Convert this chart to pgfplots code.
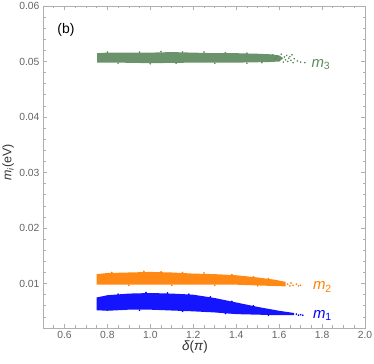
\documentclass[border=0pt]{standalone}
\usepackage{fontspec}
\setmainfont{Liberation Sans}
\usepackage{pgfplots}
\pgfplotsset{compat=1.18}

\definecolor{mgreen}{RGB}{94,138,94}
\definecolor{morange}{RGB}{255,127,0}
\definecolor{mblue}{RGB}{0,0,255}
\definecolor{framegray}{RGB}{175,175,175}
\definecolor{labgray}{RGB}{100,100,100}

\begin{document}
\begin{tikzpicture}
\begin{axis}[
scale only axis,
width=322bp, height=322bp,
xmin=0.5, xmax=2.0,
ymin=0.002, ymax=0.06,
xtick={0.6,0.8,1.0,1.2,1.4,1.6,1.8,2.0},
xticklabels={0.6,0.8,1.0,1.2,1.4,1.6,1.8,2.0},
ytick={0.01,0.02,0.03,0.04,0.05,0.06},
yticklabels={0.01,0.02,0.03,0.04,0.05,0.06},
minor xtick={0.5,0.55,0.65,0.7,0.75,0.85,0.9,0.95,1.05,1.1,1.15,1.25,1.3,1.35,1.45,1.5,1.55,1.65,1.7,1.75,1.85,1.9,1.95},
minor ytick={0.004,0.006,0.008,0.012,0.014,0.016,0.018,0.022,0.024,0.026,0.028,0.032,0.034,0.036,0.038,0.042,0.044,0.046,0.048,0.052,0.054,0.056,0.058},
axis line style={draw=framegray, line width=0.9bp},
tick style={draw=framegray, line width=0.7bp},
major tick length=4bp,
minor tick length=2.5bp,
tick align=inside,
ticklabel style={font=\fontsize{10.4}{12}\selectfont, text=labgray},
scaled y ticks=false,
xlabel={\textit{δ}(\textit{π})},
ylabel={\textit{m}\textsubscript{\textit{i}}(eV)},
label style={text=black!80},
xlabel style={font=\fontsize{13.5}{15}\selectfont, inner sep=0pt, at={(axis description cs:0.472,0)}, anchor=center, yshift=-19.5bp},
ylabel style={font=\fontsize{12.5}{14}\selectfont, at={(axis description cs:-0.108,0.515)}, anchor=center},
]

% m3 band
\addplot[draw=none, fill=mgreen!92!white] coordinates {
(0.752,0.0498) (0.752,0.0515) (0.8,0.0516) (0.9,0.0516) (1.0,0.0516) (1.1,0.0517)
(1.2,0.0516) (1.3,0.0515) (1.4,0.0515) (1.5,0.0514) (1.56,0.0513) (1.6,0.0511) (1.62,0.0506)
(1.6,0.0500) (1.55,0.0499) (1.4,0.0498) (1.2,0.0498) (1.0,0.0497) (0.85,0.0498)};
\addplot[only marks, mark=*, mark size=0.6bp, color=mgreen] coordinates {
(1.57,0.0512) (1.58,0.0505) (1.59,0.0509) (1.60,0.0502) (1.61,0.0513) (1.62,0.0499)
(1.625,0.0508) (1.63,0.0503) (1.635,0.0511) (1.64,0.0500) (1.645,0.0506) (1.65,0.0509)
(1.655,0.0502) (1.66,0.0512) (1.665,0.0498) (1.67,0.0505) (1.685,0.0501) (1.70,0.0499) (1.72,0.0498)
(0.8,0.0517) (0.95,0.0517) (1.05,0.0518) (1.15,0.0517) (1.25,0.0517) (1.35,0.0516) (1.45,0.0515)
(0.85,0.0497) (1.0,0.0496) (1.12,0.0497) (1.3,0.0497) (1.45,0.0497) (1.52,0.0498)};

% m2 band
\addplot[draw=none, fill=morange!92!white] coordinates {
(0.75,0.0098) (0.75,0.0117) (0.8,0.0119) (0.9,0.0120) (1.0,0.0121) (1.1,0.0120) (1.2,0.0118)
(1.3,0.0117) (1.4,0.0115) (1.5,0.0111) (1.58,0.0107) (1.63,0.0103)
(1.63,0.0095) (1.55,0.0096) (1.4,0.0098) (1.2,0.0098) (1.0,0.0098) (0.85,0.0098)};
\addplot[only marks, mark=*, mark size=0.6bp, color=morange] coordinates {
(1.64,0.0099) (1.65,0.0096) (1.655,0.0101) (1.665,0.0097) (1.68,0.0099) (1.69,0.0096) (1.70,0.0097)
(0.82,0.0120) (0.97,0.0122) (1.05,0.0121) (1.15,0.0120) (1.25,0.0119) (1.38,0.0116) (1.48,0.0112)
(1.55,0.0109) (0.9,0.0097) (1.1,0.0097) (1.3,0.0097) (1.5,0.0096)};

% m1 band
\addplot[draw=none, fill=mblue!92!white] coordinates {
(0.75,0.0052) (0.75,0.0075) (0.8,0.0079) (0.9,0.0082) (1.0,0.0083) (1.1,0.0082) (1.2,0.0080)
(1.3,0.0074) (1.4,0.0066) (1.5,0.0058) (1.6,0.0051) (1.67,0.0047)
(1.67,0.0043) (1.6,0.0043) (1.5,0.0044) (1.4,0.0045) (1.3,0.0048) (1.2,0.0050) (1.0,0.0053)
(0.9,0.0053) (0.8,0.0051)};
\addplot[only marks, mark=*, mark size=0.6bp, color=mblue] coordinates {
(1.68,0.0045) (1.69,0.0043) (1.70,0.0044) (1.71,0.0043)
(0.85,0.0081) (0.98,0.0084) (1.08,0.0083) (1.18,0.0081) (1.28,0.0076) (1.38,0.0068) (1.48,0.0060)
(0.95,0.0052) (1.15,0.0050) (1.35,0.0046) (1.55,0.0043)};

\node[anchor=base west, inner sep=0pt, text=mgreen, font=\fontsize{15}{17}\selectfont] at (axis cs:1.75,0.0490) {\textit{m}\textsubscript{3}};
\node[anchor=base west, inner sep=0pt, text=morange, font=\fontsize{15}{17}\selectfont] at (axis cs:1.757,0.0089) {\textit{m}\textsubscript{2}};
\node[anchor=base west, inner sep=0pt, text=mblue, font=\fontsize{15}{17}\selectfont] at (axis cs:1.757,0.0037) {\textit{m}\textsubscript{1}};
\node[anchor=center, font=\fontsize{14}{16}\selectfont] at (axis cs:0.607,0.0557) {(b)};
\end{axis}
\pgfresetboundingbox
\path[use as bounding box] ([xshift=-43bp,yshift=-36bp]current axis.south west) rectangle ([xshift=9bp,yshift=6bp]current axis.north east);
\end{tikzpicture}
\end{document}
